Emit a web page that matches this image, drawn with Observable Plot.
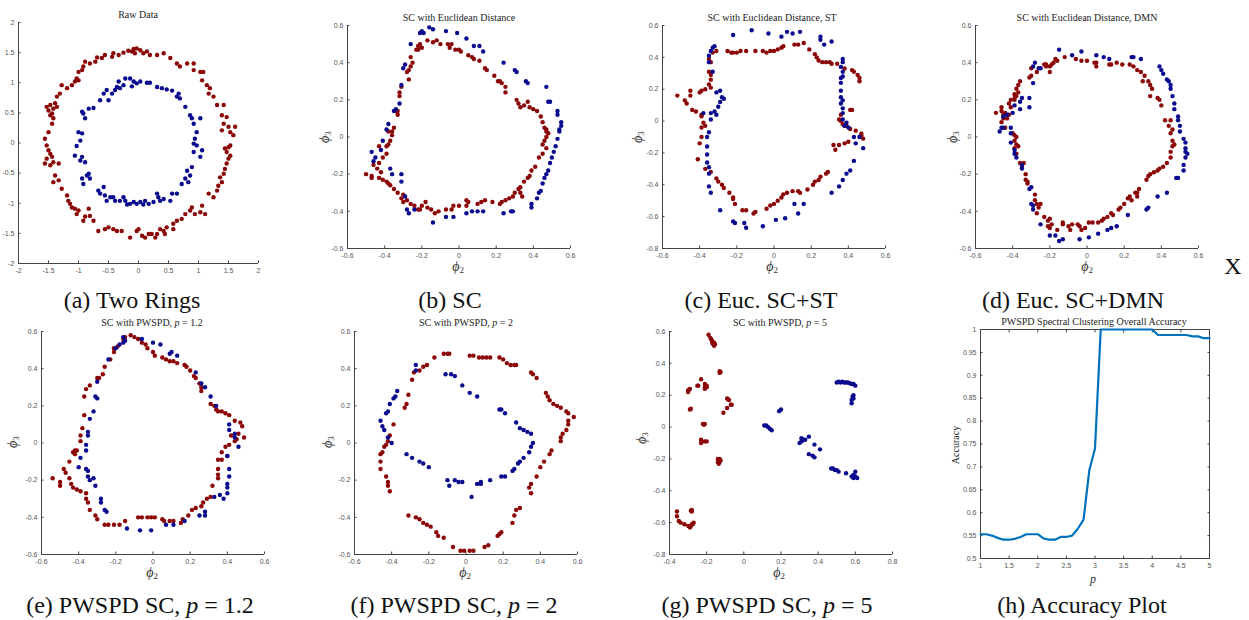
<!DOCTYPE html>
<html><head><meta charset="utf-8">
<script src="https://cdn.jsdelivr.net/npm/d3@7"></script>
<script src="https://cdn.jsdelivr.net/npm/@observablehq/plot@0.6"></script>
<style>
body{margin:0;background:#fff;width:1249px;height:620px;overflow:hidden;position:relative;font-family:"Liberation Serif","Times New Roman",serif;}
.abs{position:absolute;white-space:nowrap;line-height:1;font-family:"Liberation Serif",serif;}
.title{font-size:10px;color:#222;transform:translate(-50%,-50%);}
.cap{font-size:24px;line-height:24px;color:#111;transform:translate(-50%,0);}
.lab{font-size:14px;color:#333;transform:translate(-50%,-50%);}
.lab sub{font-size:9px;font-style:normal;vertical-align:-2px;}
.plab{font-size:12px;}
.rot{transform:translate(-50%,-50%) rotate(-90deg);}
</style></head><body>
<script>
// ---------- tick labels ----------
const ticksRing = [-2,-1.5,-1,-0.5,0,0.5,1,1.5,2];
const ticksPhi = [-0.6,-0.4,-0.2,0,0.2,0.4,0.6];
const ticksPhiLow = [-0.8,-0.6,-0.4,-0.2,0,0.2,0.4,0.6];
const ticksG = [-0.4,-0.2,0,0.2,0.4,0.6,0.8];
const ticksP = [1,1.5,2,2.5,3,3.5,4,4.5,5];
const ticksAcc = [0.5,0.55,0.6,0.65,0.7,0.75,0.8,0.85,0.9,0.95,1];

// ---------- (a) raw data ----------
const aRed = [[-0.08,1.56],[-0.03,1.57],[0.03,1.54],[-0.06,1.49],[-0.11,1.52],[-0.17,1.53],[-0.25,1.50],[-0.33,1.46],[-0.42,1.49],[-0.44,1.43],[-0.56,1.46],[-0.61,1.41],[-0.69,1.42],[-0.72,1.35],[-0.81,1.32],[-0.89,1.35],[-0.92,1.27],[-0.94,1.21],[-1.00,1.18],[-1.03,1.07],[-1.06,1.02],[-1.00,1.04],[-1.11,0.96],[-1.19,0.91],[-1.28,0.96],[-1.31,0.82],[-1.36,0.77],[-1.39,0.66],[-1.47,0.63],[-1.53,0.60],[-1.50,0.54],[-1.42,0.57],[-1.36,0.60],[-1.44,0.49],[-1.47,0.46],[-1.42,0.41],[-1.44,0.32],[-1.50,0.18],[-1.56,0.07],[-1.53,-0.04],[-1.50,-0.12],[-1.47,-0.18],[-1.44,-0.23],[-1.53,-0.26],[-1.56,-0.34],[-1.47,-0.37],[-1.42,-0.32],[-1.33,-0.34],[-1.39,-0.54],[-1.42,-0.65],[-1.33,-0.62],[-1.28,-0.76],[-1.19,-0.87],[-1.17,-0.96],[-1.14,-1.01],[-1.11,-1.07],[-1.06,-1.09],[-1.00,-1.12],[-1.03,-1.18],[-0.92,-1.29],[-0.89,-1.22],[-0.83,-1.09],[-0.81,-1.21],[-0.75,-1.29],[-0.67,-1.46],[-0.56,-1.43],[-0.50,-1.40],[-0.42,-1.43],[-0.36,-1.46],[-0.28,-1.46],[-0.14,-1.57],[-0.03,-1.46],[0.00,-1.43],[0.06,-1.54],[0.11,-1.57],[0.17,-1.51],[0.22,-1.51],[0.28,-1.57],[0.31,-1.51],[0.36,-1.43],[0.42,-1.46],[0.44,-1.51],[0.47,-1.40],[0.58,-1.43],[0.58,-1.34],[0.64,-1.29],[0.72,-1.26],[0.78,-1.18],[0.86,-1.12],[0.89,-1.07],[0.94,-1.18],[1.03,-1.15],[1.06,-1.04],[1.11,-1.18],[1.17,-0.84],[1.25,-0.90],[1.31,-0.79],[1.33,-0.71],[1.39,-0.65],[1.36,-0.57],[1.42,-0.51],[1.44,-0.43],[1.47,-0.34],[1.50,-0.26],[1.53,-0.21],[1.47,-0.15],[1.44,-0.09],[1.50,-0.07],[1.53,-0.04],[1.58,0.13],[1.53,0.18],[1.61,0.27],[1.50,0.27],[1.39,0.21],[1.42,0.32],[1.39,0.46],[1.47,0.43],[1.42,0.63],[1.31,0.63],[1.25,0.77],[1.17,0.82],[1.19,0.91],[1.14,0.96],[1.06,1.04],[1.08,1.18],[1.03,1.18],[0.92,1.21],[0.92,1.32],[0.81,1.32],[0.69,1.27],[0.64,1.32],[0.53,1.41],[0.42,1.49],[0.31,1.46],[0.19,1.46],[0.14,1.52],[0.08,1.49]];
const aBlue = [[-0.14,1.07],[-0.08,1.02],[-0.03,0.99],[0.03,1.02],[0.14,1.00],[0.19,1.00],[-0.11,0.94],[0.31,0.93],[0.39,0.91],[0.47,0.89],[0.56,0.87],[0.67,0.82],[0.69,0.74],[0.64,0.77],[0.78,0.60],[0.86,0.46],[0.89,0.41],[1.03,0.41],[0.92,0.32],[0.97,0.18],[0.94,0.07],[0.92,-0.01],[0.97,-0.04],[0.92,-0.15],[1.06,-0.12],[1.03,-0.23],[0.89,-0.40],[0.81,-0.46],[0.86,-0.54],[0.78,-0.59],[0.83,-0.65],[0.72,-0.68],[0.64,-0.84],[0.56,-0.84],[0.53,-0.96],[0.42,-0.93],[0.36,-0.96],[0.31,-0.84],[0.33,-0.90],[0.25,-0.98],[0.17,-1.01],[0.11,-0.96],[0.08,-1.02],[0.03,-0.98],[-0.03,-1.01],[-0.08,-0.98],[-0.14,-1.01],[-0.22,-0.96],[-0.19,-1.02],[-0.25,-0.90],[-0.31,-0.96],[-0.39,-0.96],[-0.42,-0.90],[-0.47,-0.90],[-0.53,-0.96],[-0.56,-0.87],[-0.64,-0.84],[-0.58,-0.73],[-0.67,-0.79],[-0.81,-0.59],[-0.86,-0.54],[-0.83,-0.51],[-0.92,-0.68],[-0.94,-0.59],[-0.89,-0.32],[-0.97,-0.29],[-0.94,-0.23],[-1.06,-0.21],[-1.03,-0.05],[-0.97,0.04],[-0.94,0.16],[-1.00,0.18],[-0.89,0.41],[-0.92,0.49],[-0.94,0.52],[-0.83,0.57],[-0.75,0.58],[-0.64,0.71],[-0.58,0.82],[-0.53,0.88],[-0.50,0.71],[-0.44,0.82],[-0.39,0.88],[-0.36,0.93],[-0.33,1.02],[-0.31,0.91],[-0.25,0.96],[-0.22,1.07]];

// ---------- (b) SC ----------
const bRed = [[-0.33,0.12],[-0.34,0.14],[-0.27,0.36],[-0.28,0.35],[-0.26,0.38],[-0.27,0.31],[-0.31,0.27],[-0.32,0.24],[-0.32,0.22],[-0.33,0.14],[-0.25,0.40],[-0.26,0.43],[-0.23,0.47],[-0.22,0.49],[-0.21,0.50],[-0.22,0.47],[-0.20,0.48],[-0.17,0.52],[-0.14,0.51],[-0.12,0.52],[-0.10,0.50],[-0.06,0.50],[-0.05,0.48],[-0.04,0.50],[-0.02,0.47],[0.00,0.47],[0.01,0.46],[0.05,0.44],[0.07,0.43],[0.08,0.42],[0.11,0.41],[0.14,0.37],[0.15,0.36],[0.19,0.33],[0.21,0.30],[0.22,0.30],[0.23,0.29],[0.25,0.27],[0.25,0.24],[0.31,0.20],[0.32,0.18],[0.33,0.16],[0.35,0.17],[0.37,0.19],[0.38,0.16],[0.40,0.15],[0.42,0.14],[0.44,0.11],[0.45,0.08],[0.46,0.05],[0.47,0.04],[0.47,0.03],[0.48,0.02],[0.47,0.00],[0.46,-0.02],[0.45,-0.04],[0.47,-0.06],[0.45,-0.09],[0.43,-0.11],[0.41,-0.16],[0.39,-0.18],[0.38,-0.21],[0.37,-0.22],[0.35,-0.24],[0.33,-0.27],[0.33,-0.30],[0.32,-0.28],[0.34,-0.32],[0.30,-0.30],[0.29,-0.32],[0.27,-0.33],[0.25,-0.34],[0.23,-0.35],[0.22,-0.36],[0.18,-0.35],[0.14,-0.34],[0.12,-0.35],[0.10,-0.36],[0.05,-0.35],[0.04,-0.34],[0.04,-0.37],[0.00,-0.37],[-0.03,-0.37],[-0.04,-0.39],[-0.07,-0.39],[-0.11,-0.40],[-0.13,-0.41],[-0.15,-0.39],[-0.17,-0.38],[-0.18,-0.35],[-0.20,-0.37],[-0.21,-0.39],[-0.22,-0.39],[-0.24,-0.37],[-0.26,-0.36],[-0.28,-0.34],[-0.30,-0.35],[-0.30,-0.31],[-0.31,-0.33],[-0.33,-0.30],[-0.35,-0.28],[-0.37,-0.26],[-0.38,-0.25],[-0.39,-0.24],[-0.41,-0.23],[-0.43,-0.22],[-0.42,-0.19],[-0.44,-0.17],[-0.46,-0.15],[-0.43,-0.14],[-0.47,-0.21],[-0.47,-0.22],[-0.50,-0.20],[-0.41,-0.11],[-0.39,-0.09],[-0.39,-0.05],[-0.38,-0.04],[-0.43,-0.05],[-0.37,-0.02],[-0.38,0.03],[-0.36,0.03],[-0.36,0.01],[-0.35,0.05]];
const bBlue = [[-0.16,0.59],[-0.21,0.56],[-0.19,0.56],[-0.20,0.57],[-0.14,0.58],[-0.07,0.57],[-0.01,0.56],[0.04,0.53],[0.08,0.49],[0.11,0.49],[0.13,0.46],[0.24,0.40],[0.30,0.36],[0.31,0.35],[0.36,0.30],[0.37,0.29],[0.47,0.27],[0.48,0.19],[0.49,0.19],[0.53,0.14],[0.53,0.12],[0.55,0.08],[0.55,0.06],[0.54,0.04],[0.54,0.03],[0.53,-0.01],[0.52,-0.05],[0.51,-0.08],[0.50,-0.11],[0.49,-0.14],[0.48,-0.18],[0.47,-0.20],[0.46,-0.22],[0.45,-0.25],[0.44,-0.29],[0.43,-0.30],[0.42,-0.33],[0.39,-0.36],[0.39,-0.38],[0.29,-0.40],[0.28,-0.40],[0.24,-0.41],[0.13,-0.40],[0.10,-0.40],[0.07,-0.40],[0.04,-0.41],[-0.03,-0.43],[-0.07,-0.43],[-0.14,-0.46],[-0.27,-0.41],[-0.28,-0.39],[-0.24,-0.39],[-0.29,-0.32],[-0.31,-0.24],[-0.31,-0.20],[-0.36,-0.20],[-0.37,-0.17],[-0.46,-0.13],[-0.45,-0.11],[-0.47,-0.08],[-0.42,-0.07],[-0.41,-0.02],[-0.39,0.04],[-0.38,0.07],[-0.35,0.14],[-0.34,0.15],[-0.32,0.18],[-0.31,0.28],[-0.30,0.37],[-0.29,0.39],[-0.26,0.50]];

// ---------- (c) Euc. SC+ST ----------
const cRed = [[-0.25,0.44],[-0.23,0.43],[-0.22,0.43],[-0.20,0.43],[-0.18,0.44],[-0.15,0.44],[-0.10,0.44],[-0.06,0.44],[-0.04,0.43],[-0.02,0.44],[0.00,0.44],[0.02,0.45],[0.04,0.46],[0.05,0.47],[0.11,0.48],[0.13,0.48],[0.16,0.49],[0.19,0.45],[0.22,0.42],[0.23,0.40],[0.24,0.38],[0.26,0.37],[0.28,0.37],[0.30,0.37],[0.31,0.36],[0.34,0.36],[0.38,0.33],[0.42,0.32],[0.43,0.31],[0.45,0.29],[0.46,0.27],[0.46,0.25],[0.41,0.07],[0.42,0.07],[0.36,0.04],[0.35,0.01],[0.36,0.00],[0.37,-0.02],[0.38,-0.03],[0.39,-0.03],[0.41,-0.05],[0.44,-0.06],[0.47,-0.08],[0.47,-0.09],[0.48,-0.11],[0.40,-0.13],[0.38,-0.14],[0.35,-0.15],[0.32,-0.15],[0.33,-0.18],[0.29,-0.32],[0.28,-0.33],[0.25,-0.35],[0.24,-0.37],[0.22,-0.38],[0.21,-0.40],[0.18,-0.43],[0.14,-0.45],[0.13,-0.44],[0.10,-0.44],[0.07,-0.45],[0.05,-0.46],[0.04,-0.48],[0.02,-0.50],[0.00,-0.52],[-0.02,-0.53],[-0.04,-0.55],[-0.10,-0.57],[-0.11,-0.58],[-0.15,-0.56],[-0.17,-0.56],[-0.21,-0.52],[-0.22,-0.49],[-0.22,-0.48],[-0.24,-0.45],[-0.27,-0.42],[-0.28,-0.40],[-0.30,-0.38],[-0.31,-0.36],[-0.34,-0.32],[-0.37,-0.30],[-0.41,-0.24],[-0.40,-0.14],[-0.39,-0.10],[-0.39,-0.04],[-0.37,-0.03],[-0.38,-0.01],[-0.39,0.03],[-0.39,0.04],[-0.44,0.07],[-0.42,0.06],[-0.47,0.11],[-0.48,0.13],[-0.45,0.16],[-0.45,0.19],[-0.40,0.18],[-0.39,0.19],[-0.37,0.20],[-0.34,0.21],[-0.35,0.23],[-0.34,0.26],[-0.34,0.29],[-0.35,0.31],[-0.52,0.16],[-0.34,0.37],[-0.35,0.39],[-0.33,0.43],[-0.31,0.44]];
const cBlue = [[-0.22,0.54],[-0.12,0.57],[-0.03,0.55],[0.04,0.53],[0.07,0.56],[0.10,0.55],[0.14,0.56],[0.25,0.53],[0.25,0.51],[0.31,0.50],[0.27,0.48],[-0.33,0.46],[-0.32,0.47],[-0.34,0.44],[-0.35,0.41],[-0.35,0.37],[-0.33,0.31],[-0.31,0.18],[-0.29,0.19],[-0.28,0.15],[-0.27,0.14],[-0.29,0.12],[-0.30,0.09],[-0.34,0.05],[-0.32,0.06],[-0.31,0.04],[-0.38,0.05],[-0.34,0.01],[-0.35,-0.07],[-0.36,-0.10],[-0.36,-0.16],[-0.36,-0.21],[-0.36,-0.26],[-0.35,-0.29],[-0.35,-0.33],[-0.35,-0.41],[-0.34,-0.45],[-0.29,-0.56],[-0.22,-0.63],[-0.21,-0.64],[-0.16,-0.64],[-0.15,-0.67],[-0.06,-0.66],[0.01,-0.62],[0.06,-0.61],[0.11,-0.52],[0.13,-0.58],[0.16,-0.52],[0.31,-0.45],[0.35,-0.41],[0.37,-0.37],[0.39,-0.33],[0.41,-0.31],[0.43,-0.25],[0.48,-0.17],[0.44,-0.14],[0.43,-0.10],[0.46,-0.10],[0.38,-0.03],[0.40,-0.04],[0.39,-0.01],[0.37,0.01],[0.37,0.05],[0.37,0.08],[0.36,0.11],[0.37,0.13],[0.36,0.15],[0.36,0.19],[0.36,0.24],[0.36,0.27],[0.37,0.28],[0.37,0.31],[0.36,0.34],[0.37,0.37],[0.37,0.39]];

// ---------- (d) Euc. SC+DMN ----------
const dRed = [[-0.49,0.13],[-0.46,0.16],[-0.46,0.14],[-0.44,0.13],[-0.45,0.12],[-0.45,0.10],[-0.43,0.10],[-0.42,0.12],[-0.46,0.08],[-0.44,0.05],[-0.42,0.18],[-0.41,0.20],[-0.39,0.21],[-0.39,0.23],[-0.38,0.22],[-0.38,0.26],[-0.37,0.28],[-0.36,0.30],[-0.37,0.24],[-0.39,0.20],[-0.41,0.16],[-0.40,0.02],[-0.39,0.01],[-0.38,0.00],[-0.39,-0.02],[-0.38,-0.04],[-0.37,-0.05],[-0.39,-0.06],[-0.38,-0.09],[-0.36,-0.14],[-0.35,-0.16],[-0.34,-0.14],[-0.33,-0.20],[-0.33,-0.23],[-0.32,-0.25],[-0.32,-0.24],[-0.28,-0.31],[-0.28,-0.34],[-0.27,-0.36],[-0.26,-0.38],[-0.25,-0.36],[-0.27,-0.41],[-0.23,-0.43],[-0.21,-0.45],[-0.20,-0.44],[-0.21,-0.48],[-0.19,-0.47],[-0.20,-0.49],[-0.16,-0.50],[-0.13,-0.46],[-0.13,-0.47],[-0.10,-0.48],[-0.09,-0.50],[-0.08,-0.47],[-0.05,-0.47],[-0.04,-0.48],[-0.03,-0.50],[-0.01,-0.49],[0.01,-0.46],[0.03,-0.46],[0.06,-0.46],[0.08,-0.45],[0.09,-0.44],[0.11,-0.43],[0.13,-0.41],[0.14,-0.42],[0.17,-0.39],[0.18,-0.38],[0.20,-0.36],[0.22,-0.33],[0.23,-0.32],[0.24,-0.34],[0.26,-0.30],[0.27,-0.30],[0.28,-0.28],[0.27,-0.32],[0.32,-0.23],[0.33,-0.21],[0.34,-0.20],[0.36,-0.19],[0.38,-0.18],[0.39,-0.17],[0.41,-0.16],[0.43,-0.14],[0.45,-0.11],[0.45,-0.08],[0.46,-0.05],[0.47,-0.04],[0.46,-0.02],[0.45,0.02],[0.46,0.04],[0.44,0.06],[0.45,0.09],[0.42,0.09],[0.40,0.17],[0.39,0.20],[0.38,0.21],[0.34,0.22],[0.35,0.26],[0.34,0.28],[0.33,0.30],[0.30,0.30],[0.31,0.33],[0.29,0.35],[0.27,0.36],[0.25,0.38],[0.23,0.39],[0.19,0.39],[0.16,0.40],[0.13,0.39],[0.12,0.39],[0.05,0.40],[0.04,0.40],[0.05,0.38],[0.00,0.41],[-0.03,0.41],[-0.06,0.42],[-0.12,0.43],[-0.16,0.41],[-0.17,0.42],[-0.18,0.40],[-0.19,0.39],[-0.20,0.38],[-0.20,0.35],[-0.22,0.39],[-0.22,0.38],[-0.23,0.39],[-0.27,0.35],[-0.30,0.37],[-0.30,0.33],[-0.31,0.32]];
const dBlue = [[-0.15,0.47],[-0.08,0.44],[-0.03,0.46],[0.05,0.44],[0.09,0.43],[0.12,0.42],[0.24,0.43],[0.25,0.43],[0.29,0.42],[0.39,0.38],[0.40,0.36],[0.41,0.34],[0.43,0.31],[0.44,0.30],[0.45,0.28],[0.45,0.26],[0.46,0.22],[0.47,0.18],[0.47,0.15],[0.49,0.11],[0.49,0.09],[0.50,0.06],[0.50,0.03],[0.52,-0.01],[0.53,-0.03],[0.53,-0.06],[0.53,-0.08],[0.54,-0.09],[0.53,-0.11],[0.52,-0.15],[0.52,-0.18],[0.49,-0.22],[0.48,-0.22],[0.43,-0.30],[0.38,-0.32],[0.33,-0.38],[0.32,-0.39],[0.22,-0.42],[0.16,-0.48],[0.13,-0.49],[0.11,-0.50],[0.06,-0.52],[0.01,-0.54],[-0.04,-0.55],[-0.13,-0.55],[-0.15,-0.56],[-0.17,-0.53],[-0.20,-0.53],[-0.25,-0.47],[-0.29,-0.39],[-0.29,-0.37],[-0.30,-0.36],[-0.31,-0.28],[-0.30,-0.27],[-0.35,-0.17],[-0.35,-0.15],[-0.38,-0.11],[-0.39,-0.09],[-0.39,-0.07],[-0.41,-0.03],[-0.41,0.02],[-0.41,0.05],[-0.45,0.05],[-0.46,0.05],[-0.47,0.03],[-0.45,0.11],[-0.43,0.12],[-0.40,0.13],[-0.39,0.17],[-0.36,0.15],[-0.36,0.19],[-0.35,0.21],[-0.31,0.16],[-0.31,0.21],[-0.29,0.29],[-0.29,0.38],[-0.28,0.40],[-0.26,0.37],[-0.25,0.37]];

// ---------- (e) PWSPD p = 1.2 ----------
const eRed = [[-0.12,0.58],[-0.15,0.57],[-0.16,0.56],[-0.10,0.57],[-0.08,0.56],[-0.06,0.54],[-0.04,0.53],[-0.03,0.51],[0.00,0.49],[0.01,0.47],[0.05,0.46],[0.07,0.45],[0.09,0.44],[0.11,0.44],[0.13,0.43],[0.17,0.42],[0.18,0.41],[0.20,0.39],[0.22,0.36],[0.23,0.35],[0.25,0.32],[0.26,0.30],[0.26,0.28],[0.31,0.21],[0.33,0.20],[0.34,0.18],[0.35,0.17],[0.37,0.17],[0.39,0.16],[0.41,0.15],[0.44,0.12],[0.47,0.11],[0.48,0.09],[0.49,0.03],[0.46,0.05],[0.45,0.02],[0.44,0.01],[0.42,0.04],[0.41,-0.01],[0.39,-0.02],[0.37,-0.05],[0.40,-0.07],[0.37,-0.09],[0.35,-0.09],[0.35,-0.14],[0.35,-0.17],[0.35,-0.19],[0.32,-0.23],[0.31,-0.29],[0.29,-0.30],[0.27,-0.32],[0.26,-0.34],[0.23,-0.35],[0.21,-0.36],[0.19,-0.39],[0.16,-0.41],[0.15,-0.43],[0.11,-0.42],[0.09,-0.42],[0.06,-0.42],[0.05,-0.41],[0.01,-0.40],[-0.01,-0.40],[-0.03,-0.40],[-0.06,-0.40],[-0.08,-0.40],[-0.15,-0.42],[-0.18,-0.44],[-0.21,-0.44],[-0.24,-0.44],[-0.26,-0.44],[-0.30,-0.41],[-0.31,-0.39],[-0.34,-0.36],[-0.35,-0.32],[-0.36,-0.30],[-0.36,-0.27],[-0.39,-0.26],[-0.41,-0.25],[-0.43,-0.24],[-0.44,-0.22],[-0.45,-0.19],[-0.47,-0.16],[-0.48,-0.14],[-0.50,-0.23],[-0.50,-0.21],[-0.54,-0.19],[-0.45,-0.10],[-0.43,-0.05],[-0.42,-0.04],[-0.41,-0.04],[-0.42,-0.06],[-0.39,0.01],[-0.39,0.04],[-0.38,0.08],[-0.37,0.15],[-0.37,0.25],[-0.36,0.29],[-0.34,0.31],[-0.30,0.35],[-0.29,0.35],[-0.27,0.37],[-0.26,0.41],[-0.23,0.45],[-0.21,0.49],[-0.21,0.51],[-0.19,0.52]];
const eBlue = [[-0.15,0.55],[-0.16,0.57],[-0.06,0.56],[0.00,0.54],[0.04,0.53],[0.09,0.48],[0.10,0.49],[0.13,0.47],[0.23,0.38],[0.26,0.32],[0.28,0.30],[0.31,0.25],[0.34,0.20],[0.41,0.10],[0.41,0.07],[0.44,0.05],[0.44,0.03],[0.46,-0.02],[0.40,-0.07],[0.41,-0.14],[0.41,-0.18],[0.40,-0.22],[0.40,-0.24],[0.40,-0.27],[0.38,-0.30],[0.36,-0.28],[0.33,-0.29],[0.28,-0.37],[0.25,-0.39],[0.28,-0.39],[0.17,-0.42],[0.11,-0.44],[0.07,-0.44],[-0.01,-0.47],[-0.07,-0.47],[-0.14,-0.46],[-0.25,-0.37],[-0.26,-0.36],[-0.28,-0.32],[-0.28,-0.30],[-0.31,-0.23],[-0.32,-0.19],[-0.35,-0.18],[-0.34,-0.20],[-0.35,-0.15],[-0.36,-0.14],[-0.40,-0.13],[-0.39,-0.08],[-0.36,-0.04],[-0.36,-0.01],[-0.35,0.04],[-0.35,0.06],[-0.34,0.13],[-0.32,0.17],[-0.30,0.24],[-0.31,0.25],[-0.30,0.33],[-0.24,0.45],[-0.20,0.51],[-0.18,0.53],[-0.16,0.54]];

// ---------- (f) PWSPD p = 2 ----------
const fRed = [[-0.12,0.48],[-0.10,0.48],[-0.09,0.48],[-0.17,0.46],[0.02,0.47],[0.04,0.47],[0.07,0.46],[0.09,0.46],[0.11,0.46],[0.13,0.46],[0.18,0.46],[0.20,0.45],[0.22,0.43],[0.24,0.42],[0.26,0.42],[0.27,0.42],[0.35,0.38],[0.36,0.37],[0.38,0.35],[0.43,0.27],[0.44,0.25],[0.45,0.23],[0.47,0.21],[0.49,0.20],[0.51,0.19],[0.54,0.17],[0.55,0.16],[0.58,0.14],[0.55,0.12],[0.55,0.10],[0.54,0.07],[0.52,0.05],[0.51,0.03],[0.51,0.01],[0.46,-0.04],[0.45,-0.06],[0.42,-0.10],[0.40,-0.13],[0.38,-0.18],[0.35,-0.22],[0.34,-0.24],[0.35,-0.27],[0.29,-0.35],[0.27,-0.36],[0.26,-0.39],[0.25,-0.43],[0.19,-0.48],[0.18,-0.49],[0.17,-0.50],[0.12,-0.55],[0.10,-0.56],[0.04,-0.58],[0.02,-0.58],[-0.01,-0.58],[-0.03,-0.58],[-0.07,-0.56],[-0.12,-0.51],[-0.15,-0.50],[-0.16,-0.48],[-0.19,-0.45],[-0.21,-0.44],[-0.23,-0.43],[-0.25,-0.41],[-0.27,-0.40],[-0.31,-0.39],[-0.41,-0.26],[-0.42,-0.23],[-0.42,-0.21],[-0.43,-0.18],[-0.46,-0.14],[-0.46,-0.10],[-0.46,-0.06],[-0.45,-0.05],[-0.44,-0.02],[-0.43,-0.01],[-0.42,0.01],[-0.41,0.04],[-0.39,0.10],[-0.33,0.19],[-0.32,0.21],[-0.31,0.26],[-0.29,0.34],[-0.28,0.38],[-0.25,0.39],[-0.23,0.41],[-0.21,0.42]];
const fBlue = [[-0.46,0.12],[-0.45,0.09],[-0.44,0.07],[-0.43,0.16],[-0.42,0.17],[-0.41,0.21],[-0.39,0.24],[-0.38,0.25],[-0.37,0.28],[-0.42,0.03],[-0.40,0.00],[-0.27,0.42],[-0.27,0.39],[-0.11,0.37],[-0.08,0.37],[-0.06,0.36],[-0.02,0.31],[0.02,0.27],[0.06,0.25],[0.18,0.18],[0.19,0.18],[0.21,0.16],[0.27,0.11],[0.29,0.08],[0.31,0.07],[0.33,0.06],[0.35,0.05],[0.36,0.00],[0.35,-0.02],[0.34,-0.05],[0.31,-0.08],[0.29,-0.10],[0.28,-0.11],[0.26,-0.14],[0.25,-0.15],[0.21,-0.18],[0.19,-0.18],[0.13,-0.20],[0.08,-0.21],[0.06,-0.22],[0.03,-0.29],[-0.02,-0.21],[-0.04,-0.21],[-0.06,-0.20],[-0.10,-0.20],[-0.09,-0.23],[-0.20,-0.13],[-0.23,-0.11],[-0.25,-0.10],[-0.29,-0.08],[-0.32,-0.06],[0.08,-0.22]];

// ---------- (g) PWSPD p = 5 ----------
const gRed = [[-0.19,0.58],[-0.18,0.56],[-0.175,0.55],[-0.17,0.54],[-0.17,0.53],[-0.165,0.52],[-0.16,0.51],[-0.155,0.52],[-0.16,0.53],[-0.13,0.35],[-0.13,0.34],[-0.125,0.345],[-0.23,0.30],[-0.25,0.26],[-0.245,0.26],[-0.30,0.23],[-0.30,0.22],[-0.295,0.235],[-0.29,0.24],[-0.21,0.27],[-0.20,0.26],[-0.21,0.25],[-0.20,0.25],[-0.21,0.24],[-0.205,0.255],[-0.09,0.18],[-0.08,0.17],[-0.085,0.175],[-0.07,0.14],[-0.065,0.14],[-0.09,0.12],[-0.11,0.09],[-0.29,0.11],[-0.285,0.115],[-0.22,0.02],[-0.21,0.02],[-0.215,0.015],[-0.23,-0.08],[-0.23,-0.10],[-0.21,-0.09],[-0.20,-0.09],[-0.14,-0.20],[-0.13,-0.20],[-0.14,-0.22],[-0.13,-0.22],[-0.135,-0.23],[-0.125,-0.21],[-0.36,-0.53],[-0.36,-0.56],[-0.35,-0.59],[-0.34,-0.60],[-0.32,-0.61],[-0.30,-0.62],[-0.29,-0.63],[-0.285,-0.62],[-0.28,-0.61],[-0.27,-0.60],[-0.275,-0.61],[-0.28,-0.53],[-0.28,-0.52],[-0.285,-0.525]];
const gBlue = [[0.50,0.28],[0.51,0.285],[0.52,0.28],[0.53,0.285],[0.54,0.28],[0.55,0.28],[0.56,0.28],[0.57,0.275],[0.58,0.27],[0.59,0.27],[0.60,0.26],[0.59,0.20],[0.585,0.19],[0.58,0.17],[0.58,0.15],[0.59,0.18],[0.20,0.11],[0.19,0.10],[0.11,0.01],[0.12,0.01],[0.13,0.00],[0.14,-0.01],[0.15,-0.02],[0.30,-0.10],[0.31,-0.09],[0.32,-0.08],[0.33,-0.08],[0.31,-0.07],[0.35,-0.06],[0.38,-0.11],[0.41,-0.14],[0.35,-0.17],[0.37,-0.18],[0.38,-0.19],[0.47,-0.26],[0.48,-0.26],[0.49,-0.27],[0.50,-0.27],[0.51,-0.28],[0.55,-0.29],[0.58,-0.31],[0.59,-0.30],[0.60,-0.28],[0.61,-0.32],[0.59,-0.32],[0.60,-0.31]];

// ---------- (h) accuracy ----------
const accP = [1,1.1,1.2,1.3,1.4,1.5,1.6,1.7,1.8,1.9,2,2.1,2.2,2.3,2.4,2.5,2.6,2.7,2.8,2.9,3,3.1,3.2,3.3,3.4,3.5,3.6,3.7,3.8,3.9,4,4.1,4.2,4.3,4.4,4.5,4.6,4.7,4.8,4.9,5];
const accV = [0.553,0.553,0.550,0.545,0.541,0.541,0.543,0.547,0.553,0.553,0.553,0.544,0.541,0.541,0.547,0.547,0.550,0.565,0.585,0.692,0.740,1,1,1,1,1,1,1,1,1,1,0.988,0.988,0.988,0.988,0.988,0.988,0.985,0.985,0.981,0.981];

const RED = "#8b0606", BLUE = "#0a0a8f", AX = "#444", TXT = "#555";
const fmt = d => String(d);

function addDiv(html, x, y, cls) {
  const d = document.createElement("div");
  d.className = "abs " + cls;
  d.innerHTML = html;
  d.style.left = x + "px"; d.style.top = y + "px";
  document.body.appendChild(d);
}

function makePlot(p) {
  const [x0, x1, y0, y1] = p.box;
  const ml = Math.min(30, x0), mt = 10, mr = 12, mb = 16;
  const marks = [
    Plot.axisX(p.xt, {anchor: "bottom", tickSize: 0, tickPadding: 5, tickFormat: fmt, label: null, fill: TXT}),
    Plot.axisX(p.xt, {anchor: "bottom", tickSize: 2.5, dy: -2.5, tickFormat: () => "", label: null, stroke: AX}),
    Plot.axisY(p.yt, {anchor: "left", tickSize: 0, tickPadding: 4, tickFormat: fmt, label: null, fill: TXT}),
    Plot.axisY(p.yt, {anchor: "left", tickSize: 2.5, dx: 2.5, tickFormat: () => "", label: null, stroke: AX})
  ];
  if (p.box4) {
    marks.push(Plot.axisX(p.xt, {anchor: "top", tickSize: 2.5, dy: 2.5, tickFormat: () => "", label: null, stroke: AX}));
    marks.push(Plot.axisY(p.yt, {anchor: "right", tickSize: 2.5, dx: -2.5, tickFormat: () => "", label: null, stroke: AX}));
    marks.push(Plot.frame({stroke: AX}));
  } else {
    marks.push(Plot.ruleX([p.xd[0]], {stroke: AX}));
    marks.push(Plot.ruleY([p.yd[0]], {stroke: AX}));
  }
  if (p.red) marks.push(Plot.dot(p.red, {x: d => d[0], y: d => d[1], r: 2.2, fill: RED, stroke: null}));
  if (p.blue) marks.push(Plot.dot(p.blue, {x: d => d[0], y: d => d[1], r: 2.2, fill: BLUE, stroke: null}));
  if (p.line) marks.push(Plot.line(p.line[0].map((v, i) => ({p: v, a: p.line[1][i]})), {x: "p", y: "a", stroke: "#0072bd", strokeWidth: 2.2}));
  const svg = Plot.plot({
    width: (x1 - x0) + ml + mr, height: (y1 - y0) + mt + mb,
    marginLeft: ml, marginRight: mr, marginTop: mt, marginBottom: mb,
    x: {domain: p.xd, label: null}, y: {domain: p.yd, label: null},
    style: {fontSize: "7px", fontFamily: "'Liberation Sans', Arial, sans-serif", color: AX, background: "transparent", overflow: "visible"},
    marks
  });
  svg.style.position = "absolute";
  svg.style.left = (x0 - ml) + "px";
  svg.style.top = (y0 - mt) + "px";
  document.body.appendChild(svg);
}

const panels = [
  {box: [18, 258, 22, 263], xd: [-2, 2], yd: [-2, 2], xt: ticksRing, yt: ticksRing, red: aRed, blue: aBlue},
  {box: [347, 570, 25, 248], xd: [-0.6, 0.6], yd: [-0.6, 0.6], xt: ticksPhi, yt: ticksPhi, red: bRed, blue: bBlue},
  {box: [662, 885, 25, 248], xd: [-0.6, 0.6], yd: [-0.8, 0.6], xt: ticksPhi, yt: ticksPhiLow, red: cRed, blue: cBlue},
  {box: [975, 1198, 25, 248], xd: [-0.6, 0.6], yd: [-0.6, 0.6], xt: ticksPhi, yt: ticksPhi, red: dRed, blue: dBlue},
  {box: [41, 264, 331, 554], xd: [-0.6, 0.6], yd: [-0.6, 0.6], xt: ticksPhi, yt: ticksPhi, red: eRed, blue: eBlue},
  {box: [354, 577, 331, 554], xd: [-0.6, 0.6], yd: [-0.6, 0.6], xt: ticksPhi, yt: ticksPhi, red: fRed, blue: fBlue},
  {box: [669, 892, 331, 554], xd: [-0.4, 0.8], yd: [-0.8, 0.6], xt: ticksG, yt: ticksPhiLow, red: gRed, blue: gBlue},
  {box: [980, 1209, 329, 558], xd: [1, 5], yd: [0.5, 1], xt: ticksP, yt: ticksAcc, line: [accP, accV], box4: true}
];
panels.forEach(makePlot);

// titles
addDiv("Raw Data", 138, 15, "title");
addDiv("SC with Euclidean Distance", 459, 18, "title");
addDiv("SC with Euclidean Distance, ST", 772, 18, "title");
addDiv("SC with Euclidean Distance, DMN", 1087, 18, "title");
addDiv("SC with PWSPD, <i>p</i> = 1.2", 152, 323, "title");
addDiv("SC with PWSPD, <i>p</i> = 2", 466, 323, "title");
addDiv("SC with PWSPD, <i>p</i> = 5", 780, 323, "title");
addDiv("PWSPD Spectral Clustering Overall Accuracy", 1094, 322, "title");

// axis labels
const phi2 = "<i>ϕ</i><sub>2</sub>", phi3 = "<i>ϕ</i><sub>3</sub>";
[[458, 267], [772, 267], [1087, 267], [152, 573], [465, 573], [779, 573]].forEach(([x, y]) => addDiv(phi2, x, y, "lab"));
[[325, 137], [638, 137], [953, 137], [13, 442], [328, 442], [642, 438]].forEach(([x, y]) => addDiv(phi3, x, y, "lab rot"));
addDiv("Accuracy", 956, 445, "title rot");
addDiv("<i>p</i>", 1093, 579, "lab plab");

// captions
addDiv("(a) Two Rings", 132, 288, "cap");
addDiv("(b) SC", 450, 288, "cap");
addDiv("(c) Euc. SC+ST", 761, 288, "cap");
addDiv("(d) Euc. SC+DMN", 1073, 288, "cap");
addDiv("(e) PWSPD SC, <i>p</i> = 1.2", 140, 593, "cap");
addDiv("(f) PWSPD SC, <i>p</i> = 2", 454, 593, "cap");
addDiv("(g) PWSPD SC, <i>p</i> = 5", 767, 593, "cap");
addDiv("(h) Accuracy Plot", 1082, 593, "cap");
addDiv("X", 1233, 254, "cap");
</script>
</body></html>
